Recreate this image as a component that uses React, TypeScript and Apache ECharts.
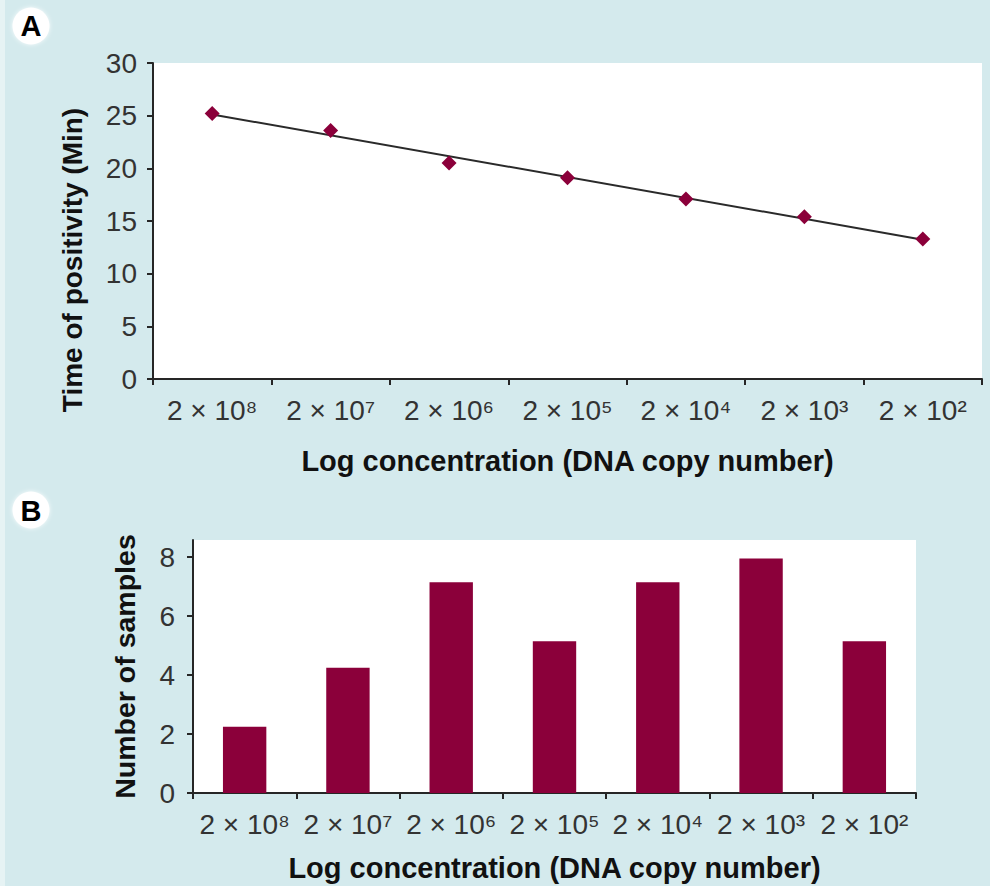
import React, { useEffect, useRef } from "react";
import * as echarts from "echarts";

const categories = ["2 × 10⁸", "2 × 10⁷", "2 × 10⁶", "2 × 10⁵", "2 × 10⁴", "2 × 10³", "2 × 10²"];
const timeOfPositivity = [25.2, 23.6, 20.5, 19.1, 17.1, 15.4, 13.3];
const sampleCounts = [2.25, 4.25, 7.15, 5.15, 7.15, 7.95, 5.15];
const yTicksA = [0, 5, 10, 15, 20, 25, 30];
const yTicksB = [0, 2, 4, 6, 8];

const FONT = "'Liberation Sans', Arial, Helvetica, sans-serif";
const BG = "#d4eaed";
const MARK = "#8b003a";
const AXIS = "#262626";

function fitLine(ys: number[]): [number, number] {
  const n = ys.length;
  const xs = ys.map((_, i) => i);
  const mx = xs.reduce((a, b) => a + b, 0) / n;
  const my = ys.reduce((a, b) => a + b, 0) / n;
  let sxy = 0;
  let sxx = 0;
  for (let i = 0; i < n; i++) {
    sxy += (xs[i] - mx) * (ys[i] - my);
    sxx += (xs[i] - mx) * (xs[i] - mx);
  }
  const slope = sxy / sxx;
  return [my - slope * mx, slope];
}

export default function App() {
  const ref = useRef<HTMLDivElement>(null);
  useEffect(() => {
    document.body.style.margin = "0";
    if (!ref.current) return;
    const chart = echarts.init(ref.current, undefined, { renderer: "svg" });
    const [b0, slope] = fitLine(timeOfPositivity);
    const last = categories.length - 1;
    const trend = [
      [0, b0],
      [last, b0 + slope * last],
    ];
    const axisLine = { show: true, lineStyle: { color: AXIS, width: 2 } };
    const axisTick = { show: true, length: 6, lineStyle: { color: AXIS, width: 2 } };
    const tickLabel = { fontSize: 28, color: "#333", fontFamily: FONT };
    const nameStyle = { fontSize: 29, fontWeight: "bold" as const, color: "#111", fontFamily: FONT };

    chart.setOption({
      animation: false,
      backgroundColor: BG,
      grid: [
        { left: 153, top: 63, width: 829, height: 316, show: true, backgroundColor: "#fff", borderWidth: 0 },
        { left: 193, top: 540, width: 723, height: 253, show: true, backgroundColor: "#fff", borderWidth: 0 },
      ],
      xAxis: [
        {
          type: "category",
          gridIndex: 0,
          data: categories,
          boundaryGap: true,
          axisLine,
          axisTick,
          axisLabel: { ...tickLabel, interval: 0, margin: 17 },
          name: "Log concentration (DNA copy number)",
          nameLocation: "middle",
          nameGap: 67,
          nameTextStyle: nameStyle,
        },
        {
          type: "category",
          gridIndex: 1,
          data: categories,
          boundaryGap: true,
          axisLine,
          axisTick,
          axisLabel: { ...tickLabel, interval: 0, margin: 17 },
          name: "Log concentration (DNA copy number)",
          nameLocation: "middle",
          nameGap: 60,
          nameTextStyle: nameStyle,
        },
      ],
      yAxis: [
        {
          type: "value",
          gridIndex: 0,
          min: 0,
          max: 30,
          interval: 5,
          axisLine,
          axisTick: { ...axisTick, customValues: yTicksA },
          axisLabel: { ...tickLabel, margin: 16, customValues: yTicksA },
          splitLine: { show: false },
        },
        {
          type: "value",
          gridIndex: 1,
          min: 0,
          max: 8.58,
          interval: 2,
          axisLine,
          axisTick: { ...axisTick, customValues: yTicksB },
          axisLabel: { ...tickLabel, margin: 18, customValues: yTicksB },
          splitLine: { show: false },
          name: "Number of samples",
          nameLocation: "middle",
          nameGap: 54,
          nameTextStyle: { ...nameStyle, fontSize: 28.5 },
        },
      ],
      series: [
        {
          type: "line",
          xAxisIndex: 0,
          yAxisIndex: 0,
          data: trend,
          showSymbol: false,
          symbol: "none",
          lineStyle: { color: "#2a2a2a", width: 2 },
          z: 2,
        },
        {
          type: "scatter",
          xAxisIndex: 0,
          yAxisIndex: 0,
          data: timeOfPositivity,
          symbol: "diamond",
          symbolSize: 15,
          itemStyle: { color: MARK, opacity: 1 },
          z: 3,
        },
        {
          type: "bar",
          xAxisIndex: 1,
          yAxisIndex: 1,
          data: sampleCounts,
          barWidth: "42%",
          itemStyle: { color: MARK },
        },
      ],
      graphic: [
        { type: "rect", left: 0, top: 0, shape: { width: 5, height: 886 }, style: { fill: "#e6f3f4" }, silent: true },
        {
          type: "text",
          x: 72,
          y: 260,
          rotation: Math.PI / 2,
          style: {
            text: "Time of positivity (Min)",
            fontSize: 28,
            fontWeight: "bold",
            fontFamily: FONT,
            fill: "#111",
            align: "center",
            verticalAlign: "middle",
          },
        },
        { type: "circle", shape: { cx: 31, cy: 26, r: 18.5 }, style: { fill: "#fff", shadowBlur: 4, shadowColor: "rgba(255,255,255,0.9)" } },
        { type: "text", x: 31, y: 26, style: { text: "A", fontSize: 29, fontWeight: "bold", fontFamily: FONT, fill: "#000", align: "center", verticalAlign: "middle" } },
        { type: "circle", shape: { cx: 31, cy: 510, r: 18.5 }, style: { fill: "#fff", shadowBlur: 4, shadowColor: "rgba(255,255,255,0.9)" } },
        { type: "text", x: 31, y: 511, style: { text: "B", fontSize: 29, fontWeight: "bold", fontFamily: FONT, fill: "#000", align: "center", verticalAlign: "middle" } },
      ],
    });
    return () => chart.dispose();
  }, []);
  return <div ref={ref} style={{ width: 990, height: 886 }} />;
}
